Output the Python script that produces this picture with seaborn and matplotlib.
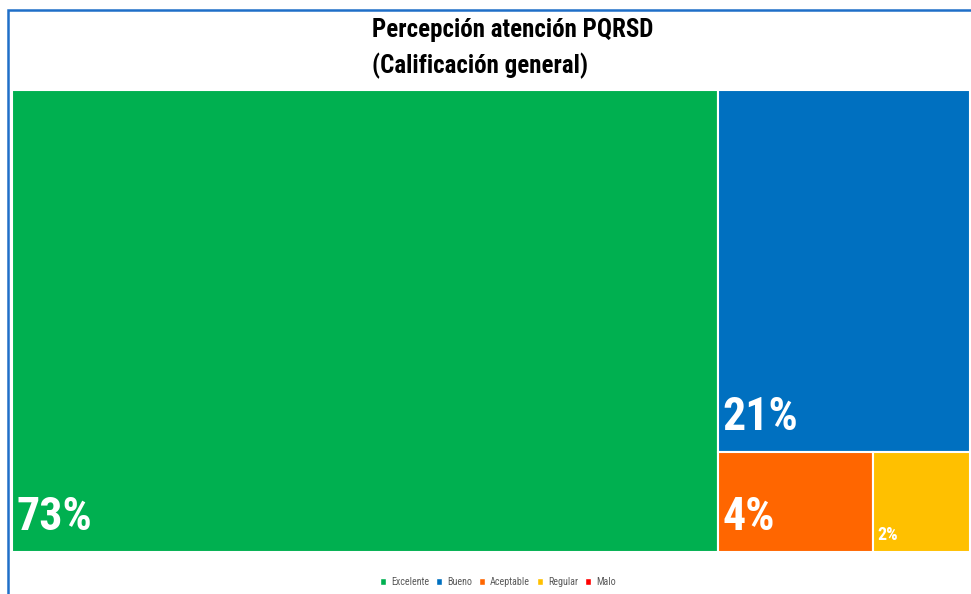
import matplotlib
matplotlib.use("Agg")
import matplotlib.pyplot as plt
from matplotlib.patches import Rectangle
import seaborn as sns

sns.set_theme(style="white")
fam = ["Roboto Condensed", "Liberation Sans", "DejaVu Sans"]
plt.rcParams["font.family"] = fam

# data
categories = ["Excelente", "Bueno", "Aceptable", "Regular", "Malo"]
values = [73.7, 20.6, 3.5, 2.2, 0.0]
labels = ["73%", "21%", "4%", "2%", ""]
colors = ["#00B050", "#0070C0", "#FF6600", "#FFC000", "#FF0000"]


# simple squarified treemap layout
def layout_row(sizes, x, y, dx, dy):
    w = sum(sizes) / dy
    out = []
    for s in sizes:
        out.append((x, y, w, s / w))
        y += s / w
    return out


def layout_col(sizes, x, y, dx, dy):
    h = sum(sizes) / dx
    out = []
    for s in sizes:
        out.append((x, y, s / h, h))
        x += s / h
    return out


def layout(sizes, x, y, dx, dy):
    return layout_row(sizes, x, y, dx, dy) if dx >= dy else layout_col(sizes, x, y, dx, dy)


def leftover(sizes, x, y, dx, dy):
    if dx >= dy:
        w = sum(sizes) / dy
        return x + w, y, dx - w, dy
    h = sum(sizes) / dx
    return x, y + h, dx, dy - h


def worst(sizes, x, y, dx, dy):
    return max(max(w / h, h / w) for _, _, w, h in layout(sizes, x, y, dx, dy))


def squarify(sizes, x, y, dx, dy):
    if not sizes:
        return []
    if len(sizes) == 1:
        return layout(sizes, x, y, dx, dy)
    i = 1
    while i < len(sizes) and worst(sizes[:i], x, y, dx, dy) >= worst(sizes[:i + 1], x, y, dx, dy):
        i += 1
    return layout(sizes[:i], x, y, dx, dy) + squarify(sizes[i:], *leftover(sizes[:i], x, y, dx, dy))


W, H = 958.0, 462.0
keep = [i for i, v in enumerate(values) if v > 0]
tot = sum(values[i] for i in keep)
sizes = [values[i] * W * H / tot for i in keep]
rects = squarify(sizes, 0, 0, W, H)

fig = plt.figure(figsize=(9.71, 5.94), dpi=100)
ax = fig.add_axes([12 / 971, 42 / 594, W / 971, H / 594])
ax.set_xlim(0, W)
ax.set_ylim(H, 0)
ax.axis("off")

for i, (x, y, w, h) in zip(keep, rects):
    ax.add_patch(Rectangle((x, y), w, h, facecolor=colors[i], edgecolor="white", lw=1.5))
    big = values[i] >= 3
    ax.annotate(labels[i], (x, y + h), xytext=(3, 16 if big else 9), textcoords="offset points",
                color="white", fontweight="bold", fontsize=33 if big else 13,
                ha="left", va="baseline")

# outer blue frame
fig.add_artist(Rectangle((8 / 971, -0.1), 1.2, (594 - 10) / 594 + 0.1, transform=fig.transFigure,
                         fill=False, edgecolor="#1F6FC8", lw=1.8))

fig.text(372 / 971, 1 - 18 / 594, "Percepción atención PQRSD\n(Calificación general)",
         ha="left", va="top", fontsize=18, fontweight="bold", color="black", linespacing=1.5)

handles = [Rectangle((0, 0), 1, 1, facecolor=c) for c in colors]
fig.legend(handles, categories, loc="center", bbox_to_anchor=(498 / 971, 1 - 582 / 594), ncol=5,
           frameon=False, fontsize=7.2, handlelength=0.6, handleheight=0.6, handletextpad=0.5,
           columnspacing=0.7, labelcolor="#595959")

fig.savefig("out.png", dpi=100)
